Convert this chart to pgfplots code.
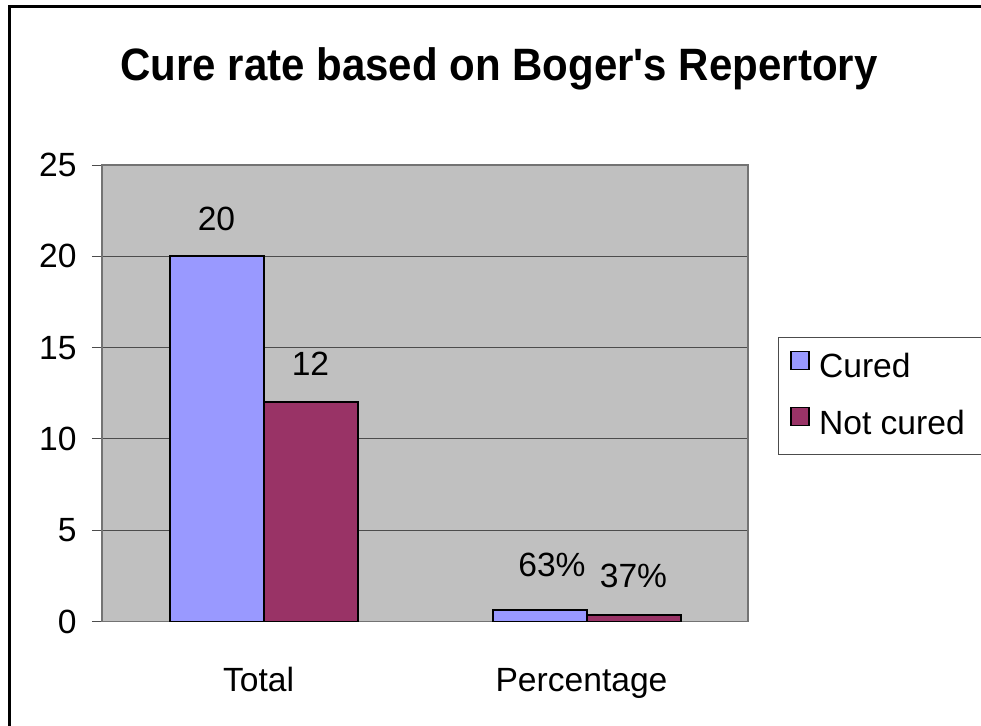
\documentclass[border=0pt]{standalone}
\usepackage{fontspec}
\setmainfont{Liberation Sans}
\usepackage{pgfplots}
\pgfplotsset{compat=1.18}
\definecolor{cured}{HTML}{9999FF}
\definecolor{notcured}{HTML}{993366}
\definecolor{plotbg}{HTML}{C0C0C0}

\begin{document}
\begin{tikzpicture}[x=0.5pt,y=0.5pt]
\useasboundingbox (0,0) rectangle (981,-725);
\clip (0,0) rectangle (981,-725);
% outer chart frame (only left and top edges are inside the picture)
\draw[line width=1.5pt] (9.5,-800) -- (9.5,-5.75);
\draw[line width=1.5pt] (8,-6.5) -- (1100,-6.5);
\node[font=\bfseries\fontsize{21}{25}\selectfont, anchor=base, inner sep=0pt]
  at (499,-80) {\scalebox{1}[1.08]{Cure rate based on Boger\textquotesingle s Repertory}};
\begin{axis}[at={(51pt,-310.75pt)}, anchor=south west,
  scale only axis, width=323pt, height=228.25pt,
  ybar=0pt, bar width=47pt,
  xmin=-0.5, xmax=1.5, ymin=0, ymax=25,
  axis background/.style={fill=plotbg},
  axis line style={draw=black!55, line width=0.6pt},
  xtick={0,1}, xticklabels={Total,Percentage},
  major x tick style={draw=none},
  extra x ticks={-0.5,0.5,1.5}, extra x tick labels={},
  extra x tick style={tick align=outside, major tick length=5pt,
    major tick style={draw=black!70, line width=0.5pt}},
  xticklabel style={anchor=base, yshift=-30pt, xshift=-2.5pt},
  ytick={0,5,10,15,20,25},
  ymajorgrids=true, grid style={black!70, line width=0.5pt},
  y tick style={draw=black!70, line width=0.5pt},
  tick align=outside, major tick length=5pt,
  yticklabel style={anchor=east, inner sep=0pt, xshift=-7.5pt},
  xtick pos=bottom, ytick pos=left,
  tick label style={font=\fontsize{16.8}{20}\selectfont},
  /pgf/number format/assume math mode=true,
  nodes near coords style={font=\fontsize{16.8}{20}\selectfont, anchor=base, inner sep=0pt},
  legend style={at={(1.0464,0.6232)}, anchor=north west,
    draw=black!70, line width=0.5pt, fill=white,
    inner xsep=6pt, inner ysep=6.5pt, row sep=11pt,
    nodes={inner xsep=4.5pt, inner ysep=0pt, text height=12pt, text depth=3.5pt,
      font=\fontsize{16.8}{20}\selectfont}},
  legend cell align=left,
  ]
\addplot[fill=cured, draw=black, line width=1pt,
  legend image code/.code={\draw[fill=cured, draw=black, line width=0.8pt] (0pt,0pt) rectangle (9pt,9pt);},
  point meta=explicit symbolic,
  visualization depends on={value \coordindex \as \idx},
  nodes near coords,
  nodes near coords style={xshift={\idx*6.25pt}, yshift={13pt+\idx*4pt}}]
  coordinates {(0,20) [20] (1,0.63) [63\%]};
\addlegendentry{Cured}
\addplot[fill=notcured, draw=black, line width=1pt,
  legend image code/.code={\draw[fill=notcured, draw=black, line width=0.8pt] (0pt,0pt) rectangle (9pt,9pt);},
  point meta=explicit symbolic,
  nodes near coords,
  nodes near coords style={yshift=13.5pt}]
  coordinates {(0,12) [12] (1,0.37) [37\%]};
\addlegendentry{Not cured\hspace{30pt}}
\end{axis}
\fill[white] (970,-9) rectangle (990,-335);
\fill[white] (970,-455) rectangle (990,-730);
\end{tikzpicture}
\end{document}
